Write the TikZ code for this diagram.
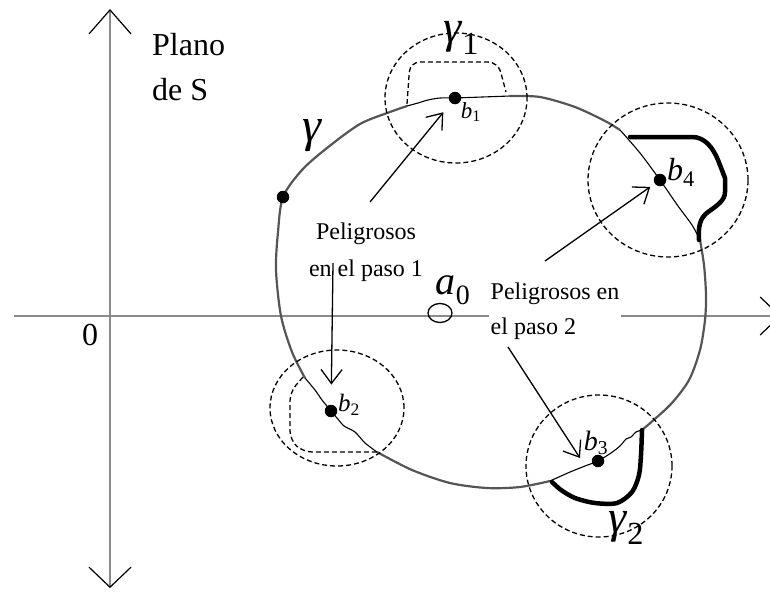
\documentclass[tikz,border=0pt]{standalone}
\usepackage{fontspec}
\setmainfont{Liberation Serif}
\usepackage{tikz}
\usetikzlibrary{arrows.meta,positioning,shapes.geometric}
\definecolor{AxisGray}{HTML}{8A8A8A}
\definecolor{CurveGray}{HTML}{555555}

\begin{document}
\begin{tikzpicture}[
  x=1pt,y=-1pt,
  axisv/.style={draw=AxisGray,line width=2.6pt,{Straight Barb[length=20pt,width=42pt,color=black,line width=1.2pt]}-{Straight Barb[length=24pt,width=42pt,color=black,line width=1.2pt]}},
  axish/.style={draw=AxisGray,line width=2.6pt,-{Straight Barb[length=20pt,width=38pt,color=black,line width=1.2pt]}},
  curve/.style={draw=CurveGray,line width=2.2pt},
  bnd/.style={line width=1.1pt,line join=round},
  deform/.style={line width=4.5pt,line join=round,line cap=round},
  zone/.style={dash pattern=on 5pt off 3pt,line width=1.3pt},
  dot/.style={circle,fill=black,inner sep=0pt,minimum size=12.5pt},
  ring/.style={draw,ellipse,line width=1.3pt,inner sep=0pt,minimum width=24pt,minimum height=19pt},
  arr/.style={-{Straight Barb[length=14pt,width=21pt]},line width=1.3pt},
  axlbl/.style={font=\fontsize{32}{45}\selectfont,inner sep=0pt},
  note/.style={font=\fontsize{24}{36}\selectfont,inner sep=1.5pt},
  bname/.style={inner sep=0pt},
  gname/.style={font=\fontsize{46}{46}\selectfont,inner sep=0pt}
]
\useasboundingbox (0,0) rectangle (770,592);
% axes
\coordinate (ytop) at (110,9);
\coordinate (ybot) at (110,588);
\coordinate (xleft) at (14,316);
\coordinate (xright) at (781,316);
\draw[axisv] (ybot) -- (ytop);
\draw[axish] (xleft) -- (xright);
\node[axlbl] (orig) at (90,335) {0};
\node[axlbl,anchor=north west,align=left] (plane) at (152,33) {Plano\\de S};

% the curve gamma, gray pieces
\draw[curve] plot[smooth] coordinates {(510,96) (540,97) (575,107) (605,121) (620,130)};
\draw[curve] plot[smooth] coordinates {(700,240) (704,265) (706,295) (705,320) (700,350) (689,380) (670,405) (642,430)};
\draw[curve] plot[smooth] coordinates {(550,481) (520,487) (487,488) (450,483) (412,470) (377,452)};
\draw[curve] plot[smooth] coordinates {(305,378) (292,352) (281,316) (276,270) (278,232) (283,197) (302,170) (327,148) (360,124) (390,112) (407,106)};

% pieces moved near each b
\draw[bnd] plot[smooth] coordinates {(407,106) (418,103) (428,100) (440,98) (455,98)} -- (510,96);
\draw[bnd] plot[smooth] coordinates {(620,130) (640,153) (660,180) (678,206) (692,225) (700,240)};
\draw[bnd] plot[smooth,tension=0.4] coordinates {(642,430) (636,432) (631,437) (626,439) (620,446) (611,453) (598,461) (585,466) (570,472) (550,481)};
\draw[bnd] plot[smooth,tension=0.4] coordinates {(377,452) (365,443) (355,432) (344,426) (337,418) (331,411) (322,400) (315,390) (305,378)};

% neighbourhoods
\draw[zone] (456,98) ellipse [x radius=71pt,y radius=65pt];
\draw[zone] (337,408) ellipse [x radius=67pt,y radius=58pt];
\draw[zone] (668,180) ellipse [x radius=80pt,y radius=77pt];
\draw[zone] (599,466) ellipse [x radius=73pt,y radius=71pt];
\draw[zone,rounded corners=10pt] (407,104) -- (410,62) -- (498,62) -- (506,92);
\draw[zone,rounded corners=9pt] (303,377) -- (290,392) -- (290,440) -- (303,452) -- (378,452);
\draw[deform] (630,137) -- (692,137) .. controls (705,137) and (713,148) .. (718,160) -- (725,178) -- (725,192) .. controls (725,200) and (718,205) .. (708,212) .. controls (700,218) and (698,226) .. (699,240);
\draw[deform] plot[smooth] coordinates {(552,482) (561,490) (575,498) (595,503) (617,503) (632,492) (639,475) (641,455) (642,430)};

% points
\node[dot] (g0) at (283,197) {};
\node[dot] (b1) at (455,98) {};
\node[dot] (b2) at (331,411) {};
\node[dot] (b3) at (598,461) {};
\node[dot] (b4) at (660,180) {};
\node[ring] (a0) at (440,313) {};

% names
\node[gname,font=\fontsize{48}{48}\selectfont] (gam) at (312,136) {\textit{γ}};
\node[gname] (gam1) at (461,38) {\textit{γ}\textsubscript{1}};
\node[gname] (gam2) at (626,528) {\textit{γ}\textsubscript{2}};
\node[gname,font=\fontsize{40}{40}\selectfont] (a0name) at (453,290) {\textit{a}\textsubscript{0}};
\node[bname,font=\fontsize{23}{23}\selectfont] (b1name) at (471,112) {\textit{b}\textsubscript{1}};
\node[bname,font=\fontsize{25}{25}\selectfont] (b2name) at (349,405) {\textit{b}\textsubscript{2}};
\node[bname,font=\fontsize{28}{28}\selectfont] (b3name) at (596,443) {\textit{b}\textsubscript{3}};
\node[bname,font=\fontsize{32}{32}\selectfont] (b4name) at (681,172) {\textit{b}\textsubscript{4}};

% texts and arrows
\node[note,align=center,font=\fontsize{24}{37}\selectfont] (peli1) at (366,252) {Peligrosos\\en el paso 1};
\node[note,align=left,fill=white,anchor=west,font=\fontsize{24}{35}\selectfont] (peli2) at (489,311) {Peligrosos en\\el paso 2};
\coordinate (s1) at (370,202);
\coordinate (s2) at (333,263);
\coordinate (s3) at (545,261);
\coordinate (s4) at (508,347);
\coordinate (t3) at (580,458);
\draw[arr,shorten >=12pt] (s1) -- (b1);
\draw[arr,shorten >=20pt] (s2) -- (b2);
\draw[arr,shorten >=5.5pt] (s3) -- (b4);
\draw[arr] (s4) -- (t3);
\end{tikzpicture}
\end{document}
